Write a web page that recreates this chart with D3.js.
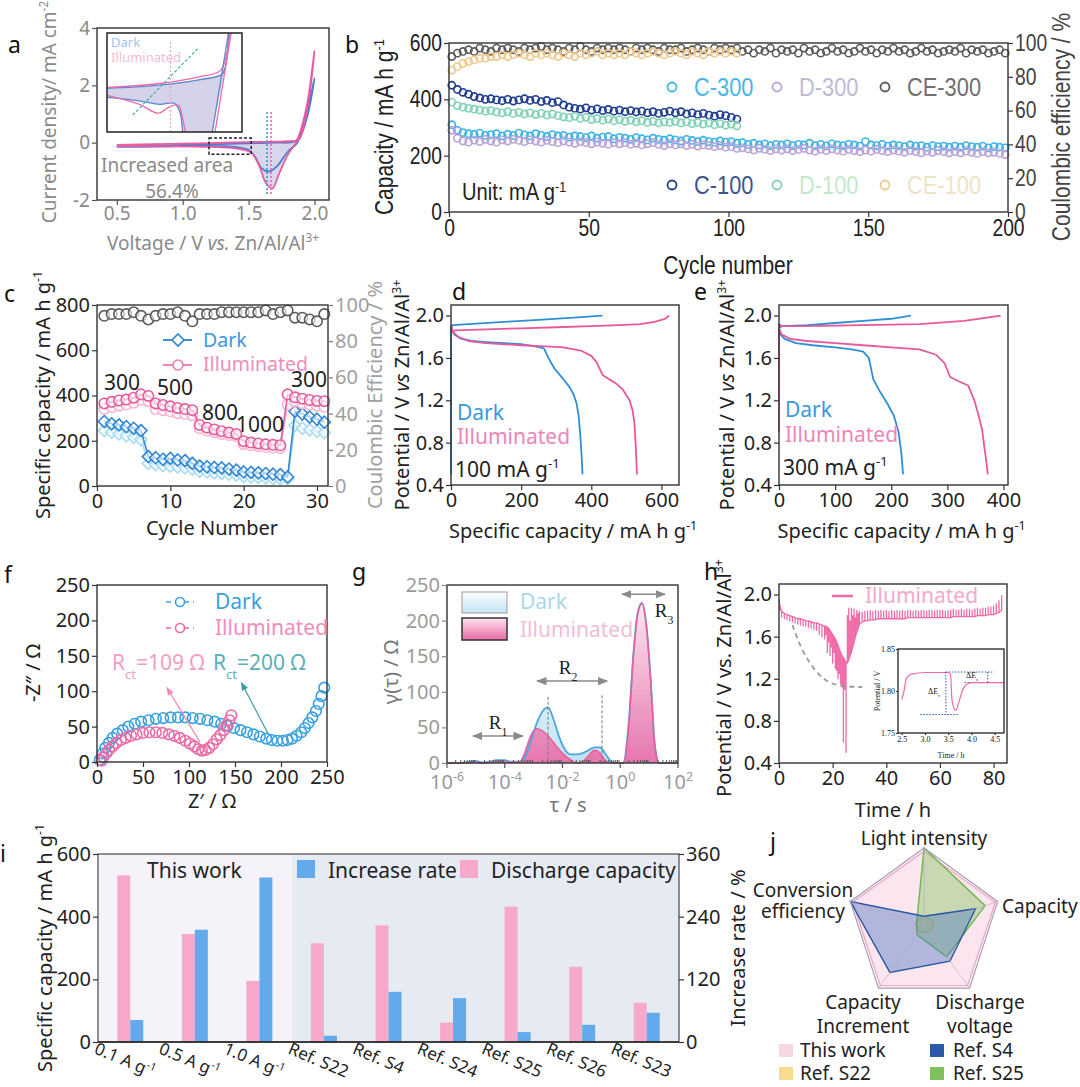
<!DOCTYPE html>
<html><head><meta charset="utf-8">
<script src="https://cdn.jsdelivr.net/npm/d3@7"></script>
<style>body{margin:0;background:#fff}</style>
</head><body><script>
// ---------------- DATA ----------------
// (a) CV curves (voltage, current)
const aDarkV=[0.5,0.8,1.2,1.5,1.7,1.85,1.9,1.95,2.0,1.95,1.9,1.87,1.8,1.72,1.66,1.6,1.55,1.5,1.4,1.2,0.8,0.5];
const aDarkI=[-0.12,-0.1,-0.06,-0.02,0.0,0.04,0.3,1.0,2.25,1.2,0.4,0.0,-0.3,-0.8,-1.0,-0.9,-0.5,-0.25,-0.15,-0.1,-0.14,-0.15];
const aIllV=[0.5,0.8,1.2,1.5,1.8,1.88,1.92,1.96,2.0,1.95,1.9,1.86,1.8,1.73,1.68,1.63,1.58,1.52,1.4,1.2,0.8,0.5];
const aIllI=[-0.08,-0.05,-0.02,0.02,0.05,0.1,0.6,1.6,3.2,1.5,0.5,0.0,-0.4,-1.1,-1.6,-1.4,-0.8,-0.35,-0.2,-0.15,-0.12,-0.12];
// (a) inset, normalised units 0-100
const aiDarkUpX=[0,36,69,85,88,90], aiDarkUpY=[44,47,53,58,68,100];
const aiIllUpX=[0,39,69,84,89,91], aiIllUpY=[45,49,56,62,81,100];
const aiDarkLoX=[0,21,39,50,54,56], aiDarkLoY=[35,32,28,29,20,0];
const aiIllLoX=[0,24,38,47,53,56,58], aiIllLoY=[37,28,19,26,27,14,0];
const aiDarkSteepX=[78,90], aiDarkSteepY=[0,100];
const aiIllSteepX=[80,92], aiIllSteepY=[0,100];

// (b) cycling, every 2nd cycle
const bC300=[310,290,282,278,276,280,272,275,278,270,276,272,280,274,270,278,272,268,275,270,272,266,270,268,264,270,262,266,268,260,265,262,258,264,260,256,262,258,255,260,256,252,258,254,250,255,250,248,252,248,250,244,246,240,244,238,242,236,240,238,242,236,240,238,244,236,240,235,242,238,236,240,238,234,250,238,236,240,234,238,236,232,238,234,236,230,236,232,234,230,234,230,236,232,230,234,228,232,230,228];
const bD300=[290,262,252,248,255,250,258,252,248,256,252,258,254,250,256,252,248,254,250,246,252,248,244,250,246,242,248,244,240,246,242,246,240,244,238,242,246,240,236,242,238,242,236,240,234,238,236,232,236,230,232,226,228,224,220,226,222,218,224,220,224,218,222,226,220,216,222,218,224,220,216,222,218,214,220,216,222,218,214,220,216,212,218,214,210,216,212,218,214,210,214,210,216,212,208,214,210,212,208,204];
const bCE300=[92,94,95,96,95,97,96,95,97,96,97,96,95,97,96,97,98,96,97,96,95,97,96,98,96,95,97,96,97,96,97,96,95,97,96,97,96,95,97,96,96,97,95,96,97,96,95,97,96,97,96,97,95,96,94,96,95,97,94,96,95,96,94,97,95,96,94,95,97,95,96,94,95,97,95,96,94,96,95,97,95,96,94,95,97,95,96,94,95,96,95,97,94,96,95,96,94,95,96,94];
const bC100=[450,435,425,418,410,405,400,402,398,395,400,394,398,402,396,400,392,396,388,392,380,372,368,365,370,362,366,360,364,358,362,356,360,355,358,352,356,350,354,358,352,356,348,352,346,350,344,340,346,342,336,330];
const bD100=[390,378,372,368,365,362,358,360,355,352,356,350,354,348,352,346,350,344,348,342,338,335,340,332,336,328,332,326,330,324,328,322,326,320,324,318,322,316,320,318,322,316,320,314,318,312,316,310,314,308,312,306];
const bCE100=[84,86,88,89,90,91,91,92,92,93,92,93,94,93,92,94,93,94,93,92,94,93,92,94,93,94,95,93,94,93,94,93,95,94,93,94,95,94,93,94,95,94,93,95,94,93,95,94,95,94,95,94];
// [label, marker colour, text colour]
const bLegend=[["C-300","#3fb3e6","#4ab6e2"],["D-300","#b9a3d9","#c2bad2"],["CE-300","#5a5a5a","#707070"],["C-100","#1f3c8f","#3c5590"],["D-100","#82d3b4","#c4e8cc"],["CE-100","#f0c88c","#efe3c6"]];

// (c) rate performance (cycles 1..31)
const cDarkC=[285,275,270,262,255,245,130,125,118,122,115,112,100,88,85,82,80,75,70,62,60,58,55,52,50,40,330,318,305,295,282];
const cDarkD=[245,238,230,222,215,205,100,95,90,88,85,80,75,65,62,58,55,52,48,42,40,38,36,34,33,32,268,255,248,242,236];
const cIllC=[365,372,378,382,390,405,398,365,358,352,345,340,335,270,258,250,242,236,230,198,192,188,184,182,180,405,392,386,380,376,375];
const cIllD=[340,348,355,360,368,380,375,340,335,330,322,318,312,255,245,238,230,225,220,185,180,176,172,170,168,360,372,365,360,355,350];
const cCE=[94,95,95,95,96,94,92,94,95,95,96,94,91,95,95,95,96,96,96,96,96,96,97,95,96,97,93,93,92,91,95];
const cRates=[["300",122,390],["500",175,395],["800",220,420],["1000",260,432],["300",309,387]];

// (d) 100 mA/g
const dDarkChgX=[0,0,4,50,150,250,350,432], dDarkChgY=[0.5,1.88,1.91,1.92,1.94,1.96,1.98,2.0];
const dDarkDisX=[0,3,10,30,60,100,150,200,240,265,281,295,310,325,339,350,358,364,368,372,375];
const dDarkDisY=[1.90,1.86,1.82,1.78,1.76,1.75,1.74,1.73,1.71,1.69,1.58,1.50,1.44,1.38,1.32,1.25,1.17,1.05,0.90,0.70,0.50];
const dIllChgX=[0,10,100,200,300,400,480,540,580,610,622], dIllChgY=[1.84,1.86,1.87,1.88,1.89,1.90,1.91,1.92,1.94,1.97,2.0];
const dIllDisX=[0,5,20,50,100,200,270,320,370,400,415,432,450,470,490,509,518,523,527,530];
const dIllDisY=[1.9,1.85,1.80,1.76,1.74,1.72,1.71,1.70,1.67,1.62,1.56,1.44,1.40,1.36,1.30,1.20,1.10,0.98,0.75,0.50];
// (e) 300 mA/g
const eDarkChgX=[0,0,5,50,100,150,200,235], eDarkChgY=[1.5,1.88,1.90,1.91,1.93,1.95,1.97,2.0];
const eDarkDisX=[0,3,10,30,60,100,130,150,160,168,180,193,205,213,218,221];
const eDarkDisY=[1.86,1.82,1.78,1.74,1.72,1.70,1.68,1.66,1.60,1.40,1.28,1.17,1.05,0.90,0.70,0.50];
const eIllChgX=[0,0,5,50,150,250,330,370,395], eIllChgY=[0.9,1.92,1.90,1.90,1.91,1.92,1.95,1.98,2.0];
const eIllDisX=[0,5,20,50,100,150,200,250,280,295,305,320,337,348,356,362,366,370,372];
const eIllDisY=[1.88,1.82,1.78,1.76,1.74,1.72,1.70,1.68,1.63,1.55,1.42,1.38,1.34,1.20,1.05,0.92,0.75,0.60,0.50];

// (f) Nyquist
const fDarkRe=[3,6,9,13,17,22,28,34,41,48,56,64,72,80,88,96,104,112,120,128,135,142,149,156,163,170,177,184,190,196,202,207,212,217,222,226,230,234,238,241,244,247];
const fDarkIm=[3,12,20,27,34,40,45,50,54,57,59,61,62,63,63,63,62,61,59,57,54,51,48,45,42,39,36,33,31,30,30,31,33,37,42,48,55,63,72,82,93,105];
const fIllRe=[5,7,10,13,17,21,26,31,37,43,50,57,64,71,78,84,90,96,101,106,110,114,118,122,126,130,134,138,141,144,146];
const fIllIm=[2,7,12,17,22,27,31,34,37,39,41,42,42,41,39,37,34,30,26,22,18,16,17,20,25,32,38,45,52,59,66];

// (g) DRT, log10(tau)
const gLogTau=[-6,-5.5,-5.2,-5,-4.8,-4.5,-4.3,-4,-3.8,-3.5,-3.3,-3.1,-2.9,-2.7,-2.5,-2.3,-2.1,-1.9,-1.7,-1.5,-1.3,-1.1,-0.9,-0.7,-0.5,-0.3,-0.1,0.1,0.3,0.45,0.6,0.75,0.9,1.05,1.2,1.35,1.5,2];
const gDark=[0,0,2,3,1,2,4,4,2,2,8,30,55,72,78,60,35,18,12,12,14,18,22,22,12,2,0,0,60,150,210,225,195,120,25,0,0,0];
const gIll=[0,0,0,1,0,1,2,2,1,1,15,38,48,45,38,28,18,10,4,0,2,10,18,14,3,0,0,0,55,148,208,224,195,118,22,0,0,0];

// (h) GITT-like pulses
const hDisT=[0.3,1,2,3,4,5,6,7,8,9,10,11,12,13,14,15,16,17,17.5,18,18.5,19,19.5,20,20.5,21,21.5,22,22.5,23,23.5,24,24.5,25];
const hDisTop=[1.90,1.84,1.82,1.81,1.80,1.79,1.78,1.77,1.77,1.76,1.75,1.75,1.74,1.73,1.73,1.72,1.71,1.70,1.70,1.69,1.68,1.66,1.64,1.62,1.60,1.58,1.55,1.52,1.48,1.45,1.42,1.40,1.38,1.36];
const hDisBot=[1.85,1.79,1.77,1.76,1.75,1.74,1.73,1.72,1.71,1.70,1.70,1.69,1.68,1.67,1.66,1.62,1.60,1.58,1.62,1.45,1.55,1.42,1.50,1.35,1.45,1.30,1.28,1.20,1.25,1.15,1.12,0.60,1.10,0.50];
const hChgT=[25.5,26,26.5,27,27.5,28,28.5,29,29.5,30,31,32,33,34,35,36,37,38,39,40,41,42,43,44,45,46,47,48,49,50,51,52,53,54,55,56,57,58,59,60,61,62,63,64,65,66,67,68,69,70,71,72,73,74,75,76,77,78,79,80,81,82,83];
const hChgBase=[1.35,1.38,1.42,1.45,1.50,1.55,1.60,1.64,1.68,1.72,1.74,1.75,1.75,1.76,1.76,1.76,1.77,1.77,1.77,1.77,1.77,1.77,1.77,1.77,1.77,1.77,1.77,1.78,1.78,1.78,1.78,1.78,1.78,1.78,1.78,1.78,1.78,1.78,1.78,1.78,1.78,1.78,1.78,1.78,1.79,1.79,1.79,1.79,1.79,1.79,1.79,1.79,1.79,1.80,1.80,1.80,1.80,1.81,1.81,1.81,1.82,1.83,1.85];
const hChgPeak=[1.80,1.87,1.75,1.87,1.80,1.86,1.78,1.85,1.82,1.84,1.83,1.84,1.84,1.85,1.84,1.85,1.84,1.85,1.84,1.85,1.84,1.85,1.84,1.85,1.84,1.85,1.84,1.85,1.85,1.84,1.85,1.84,1.85,1.85,1.84,1.85,1.85,1.84,1.85,1.85,1.85,1.84,1.85,1.85,1.86,1.85,1.85,1.86,1.85,1.86,1.86,1.85,1.86,1.87,1.86,1.87,1.87,1.88,1.88,1.89,1.91,1.94,1.99];
const hGuideT=[5,8,12,17,22,31], hGuideV=[1.71,1.5,1.32,1.18,1.13,1.12];
const hInT=[2.5,2.55,2.6,2.7,3.0,3.5,3.55,3.58,3.62,3.66,3.72,3.8,3.9,4.0,4.7];
const hInV=[1.79,1.80,1.815,1.82,1.822,1.822,1.82,1.79,1.78,1.777,1.785,1.80,1.808,1.81,1.81];

// (i) comparison bars
const iCats=["0.1 A g|-1","0.5 A g|-1","1.0 A g|-1","Ref. S22","Ref. S4","Ref. S24","Ref. S25","Ref. S26","Ref. S23"];
const iCapacity=[532,345,195,315,372,62,432,240,125];
const iIncrease=[42,215,315,12,96,84,19,33,56];

// (j) radar
const jAxes=["Light intensity","Capacity","Discharge voltage","Capacity Increment","Conversion efficiency"];
const jSeries=[
 {name:"This work",vals:[0.96,0.97,0.96,0.96,0.97],fill:"#f9dbe8",stroke:"#eea8c8",fo:0.7},
 {name:"Ref. S22",vals:[0.12,0.15,0.12,0.10,0.12],fill:"#f6d77c",stroke:"#e8c25a",fo:0.5},
 {name:"Ref. S25",vals:[1.0,0.83,0.5,0.15,0.1],fill:"#8cc86a",stroke:"#6cb84a",fo:0.45},
 {name:"Ref. S4",vals:[0.12,0.7,0.57,0.75,1.0],fill:"#4a78c0",stroke:"#2a58a0",fo:0.42}
];

// ---------------- HELPERS ----------------
const FONT="'Noto Sans','Open Sans',sans-serif";
const NARROW="'Liberation Sans','Arial',sans-serif";
const SERIF="'Liberation Serif','DejaVu Serif',serif";
const svg=d3.select('body').append('svg').attr('width',1080).attr('height',1087).style('background','#fff');
const defs=svg.append('defs');
function txt(x,y,parts,o={}){
  const size=o.size||18;
  let tr=`translate(${x},${y})`;
  if(o.rotate!=null) tr+=` rotate(${o.rotate})`;
  if(o.sx) tr+=` scale(${o.sx},1)`;
  const t=svg.append('text').attr('transform',tr).attr('font-size',size)
    .attr('fill',o.fill||'#222').attr('text-anchor',o.anchor||'start').attr('font-family',o.family||FONT);
  (Array.isArray(parts)?parts:[parts]).forEach(p=>{
    if(typeof p==='string'){t.append('tspan').text(p);return;}
    const s=t.append('tspan').text(p[0]);
    if(p[1].includes('sup')) s.attr('baseline-shift','super').attr('font-size',size*0.62);
    if(p[1].includes('sub')) s.attr('baseline-shift','sub').attr('font-size',size*0.62);
    if(p[1].includes('it')) s.attr('font-style','italic');
  });
  return t;
}
function axis(scale,orient,pos,ticks,o={}){
  const gen={left:d3.axisLeft,right:d3.axisRight,bottom:d3.axisBottom,top:d3.axisTop}[orient](scale)
    .tickValues(ticks).tickSizeInner(o.ts??5).tickSizeOuter(0).tickPadding(o.tp??2)
    .tickFormat(o.fmt||(d=>String(d)));
  const tr=(orient==='left'||orient==='right')?`translate(${pos},0)`:`translate(0,${pos})`;
  const g=svg.append('g').attr('transform',tr).call(gen);
  g.select('.domain').remove();
  g.selectAll('.tick line').attr('stroke',o.lc||'#333').attr('stroke-width',1.2);
  const tt=g.selectAll('.tick text').attr('font-size',o.size||18).attr('fill',o.fill||'#222').attr('font-family',o.family||FONT);
  if(o.sx) tt.each(function(){const e=d3.select(this);const x=+e.attr('x')||0;e.attr('x',x/o.sx).attr('transform',`scale(${o.sx},1)`);});
  return g;
}
function box(xs,ys,c='#333',w=1.3,fill='none'){
  const [x0,x1]=xs.range(),[y0,y1]=ys.range();
  return svg.append('rect').attr('x',Math.min(x0,x1)).attr('y',Math.min(y0,y1))
   .attr('width',Math.abs(x1-x0)).attr('height',Math.abs(y1-y0)).attr('fill',fill).attr('stroke',c).attr('stroke-width',w);
}
function zip(a,b){return a.map((v,i)=>[v,b[i]]);}
function path(xs,ys,pts,color,w=1.6,curve=d3.curveLinear,dash=null){
  const p=svg.append('path').attr('d',d3.line().x(d=>xs(d[0])).y(d=>ys(d[1])).curve(curve)(pts))
   .attr('fill','none').attr('stroke',color).attr('stroke-width',w).attr('stroke-linejoin','round');
  if(dash) p.attr('stroke-dasharray',dash);
  return p;
}
function marker(id,color,both){
  const m=defs.append('marker').attr('id',id).attr('viewBox','0 0 10 10').attr('refX',9).attr('refY',5)
   .attr('markerWidth',7).attr('markerHeight',7).attr('orient',both?'auto-start-reverse':'auto');
  m.append('path').attr('d','M0,1L10,5L0,9Z').attr('fill',color);
}
marker('arrGray','#8a8a8a',true);
marker('arrPink','#f08ab8',false);
marker('arrBlue','#3a9aa8',false);
const letter=(x,y,s)=>txt(x,y,s,{size:23,fill:'#111'});
const ID=d3.scaleIdentity();

// ---------------- (a) ----------------
{
 const X=d3.scaleLinear().domain([0.35,2.11]).range([97,329]);
 const Y=d3.scaleLinear().domain([-2,4]).range([200,28]);
 letter(8,53,'a');
 const illRev=zip(aIllV,aIllI).slice(9).filter(d=>d[0]>=1.2&&d[0]<=1.87);
 svg.append('path').attr('d',d3.area().x(d=>X(d[0])).y0(Y(0.02)).y1(d=>Y(d[1]))(illRev)).attr('fill','#c9c8e4').attr('opacity',0.75);
 path(X,Y,zip(aDarkV,aDarkI),'#4a7fd0',1.8,d3.curveCatmullRom);
 path(X,Y,zip(aIllV,aIllI),'#ea5a9f',1.8,d3.curveCatmullRom);
 path(X,Y,[[1.64,1.07],[1.64,-1.86]],'#3aa0c8',1.6,d3.curveLinear,'2,2');
 path(X,Y,[[1.67,1.07],[1.67,-1.86]],'#ea6aa8',1.6,d3.curveLinear,'2,2');
 svg.append('rect').attr('x',X(1.2)).attr('y',Y(0.16)).attr('width',X(1.52)-X(1.2)).attr('height',Y(-0.4)-Y(0.16))
   .attr('fill','none').attr('stroke','#222').attr('stroke-width',1.5).attr('stroke-dasharray','3,2');
 box(X,Y,'#333',1.4);
 axis(X,'bottom',200,[0.5,1.0,1.5,2.0],{fmt:d3.format('.1f'),fill:'#8a8a8a',size:19,lc:'#555'});
 axis(Y,'left',97,[-2,0,2,4],{fill:'#8a8a8a',size:19,lc:'#555'});
 txt(167,172,'Increased area',{anchor:'middle',fill:'#8a8a8a',size:19});
 txt(172,198,'56.4%',{anchor:'middle',fill:'#8a8a8a',size:19});
 txt(213,250,['Voltage / V ',['vs.','it'],' Zn/Al/Al',['3+','sup']],{anchor:'middle',fill:'#8a8a8a',size:19});
 txt(56,112,['Current density/ mA cm',['-2','sup']],{anchor:'middle',fill:'#8a8a8a',size:19,rotate:-90});
 // inset
 const IX=d3.scaleLinear().domain([0,100]).range([107,242]);
 const IY=d3.scaleLinear().domain([0,100]).range([132,33]);
 box(IX,IY,'none',0,'#fff');
 const shade=[...zip(aiDarkUpX,aiDarkUpY).slice(0,5),[78,0],[56,0],...zip(aiDarkLoX,aiDarkLoY).reverse()];
 svg.append('path').attr('d',d3.line().x(d=>IX(d[0])).y(d=>IY(d[1])).curve(d3.curveLinearClosed)(shade)).attr('fill','#c9c8e4').attr('opacity',0.8);
 path(IX,IY,zip(aiDarkUpX,aiDarkUpY),'#5a86d0',1.3,d3.curveCatmullRom);
 path(IX,IY,zip(aiIllUpX,aiIllUpY),'#ea6aa8',1.3,d3.curveCatmullRom);
 path(IX,IY,zip(aiDarkLoX,aiDarkLoY),'#5a86d0',1.3,d3.curveCatmullRom);
 path(IX,IY,zip(aiIllLoX,aiIllLoY),'#ea6aa8',1.3,d3.curveCatmullRom);
 path(IX,IY,zip(aiDarkSteepX,aiDarkSteepY),'#5a86d0',1.3);
 path(IX,IY,zip(aiIllSteepX,aiIllSteepY),'#ea6aa8',1.3);
 path(IX,IY,[[47,0],[47,93]],'#f0a0c4',1.2,d3.curveLinear,'2,2');
 path(IX,IY,[[19,17],[67,84]],'#40b0a8',1.2,d3.curveLinear,'3,2');
 box(IX,IY,'#222',1.5);
 txt(111,47,'Dark',{fill:'#9fc6ee',size:13});
 txt(111,62,'Illuminated',{fill:'#f3bad6',size:13});
}

// ---------------- (b) ----------------
{
 const X=d3.scaleLinear().domain([0,200]).range([449,1008]);
 const Y=d3.scaleLinear().domain([0,600]).range([212,43]);
 const YR=d3.scaleLinear().domain([0,100]).range([212,43]);
 letter(345,53,'b');
 const dots=(vals,ys,color)=>svg.append('g').selectAll('circle').data(vals).join('circle')
   .attr('cx',(d,i)=>X(1+2*i)).attr('cy',d=>ys(d)).attr('r',3.6).attr('fill','none').attr('stroke',color).attr('stroke-width',1.6);
 dots(bCE300,YR,bLegend[2][1]);
 dots(bCE100,YR,bLegend[5][1]);
 dots(bC300,Y,bLegend[0][1]);
 dots(bD300,Y,bLegend[1][1]);
 dots(bC100,Y,bLegend[3][1]);
 dots(bD100,Y,bLegend[4][1]);
 box(X,Y,'#333',1.4);
 const NS=0.84;
 axis(X,'bottom',212,[0,50,100,150,200],{family:NARROW,size:23,tp:3,sx:NS});
 axis(Y,'left',449,[0,200,400,600],{family:NARROW,size:23,sx:NS});
 axis(YR,'right',1008,[0,20,40,60,80,100],{family:NARROW,size:23,fill:'#444',sx:NS});
 const lx=[672,777,885], ly=[87,185];
 bLegend.forEach((d,i)=>{
   const x=lx[i%3], y=ly[Math.floor(i/3)];
   svg.append('circle').attr('cx',x).attr('cy',y).attr('r',4.5).attr('fill','none').attr('stroke',d[1]).attr('stroke-width',1.8);
   txt(x+22,y+9,d[0],{family:NARROW,size:26,fill:d[2],sx:NS});
 });
 txt(462,200,['Unit:  mA g',['-1','sup']],{family:NARROW,size:24,sx:NS});
 txt(728,274,'Cycle number',{family:NARROW,size:25,anchor:'middle',sx:NS});
 txt(393,127,['Capacity / mA h g',['-1','sup']],{family:NARROW,size:25,anchor:'middle',rotate:-90,sx:NS});
 txt(1070,127,'Coulombic efficiency / %',{family:NARROW,size:25,anchor:'middle',rotate:-90,fill:'#444',sx:NS});
}

// ---------------- (c) ----------------
{
 const X=d3.scaleLinear().domain([0,31.5]).range([97,328]);
 const Y=d3.scaleLinear().domain([0,800]).range([486,305]);
 const YR=d3.scaleLinear().domain([0,100]).range([486,305]);
 letter(4,302,'c');
 const cyc=cDarkC.map((d,i)=>i+1);
 const diamond='M0,-6L6,0L0,6L-6,0Z';
 const series=(vals,ys,color,shape,line)=>{
   const pts=vals.map((v,i)=>[cyc[i],v]);
   if(line) path(X,ys,pts,color,1.6);
   const g=svg.append('g');
   pts.forEach(p=>{
     if(shape==='d') g.append('path').attr('d',diamond).attr('transform',`translate(${X(p[0])},${ys(p[1])})`).attr('fill','#fff').attr('fill-opacity',0.6).attr('stroke',color).attr('stroke-width',1.6);
     else g.append('circle').attr('cx',X(p[0])).attr('cy',ys(p[1])).attr('r',5.2).attr('fill','#fff').attr('fill-opacity',0.6).attr('stroke',color).attr('stroke-width',1.6);
   });
 };
 series(cCE,YR,'#5a5a5a','o',false);
 series(cDarkD,Y,'#a6dcf3','d',true);
 series(cDarkC,Y,'#2e86d4','d',true);
 series(cIllD,Y,'#f6b4d0','o',true);
 series(cIllC,Y,'#e55b9c','o',true);
 box(X,Y,'#333',1.4);
 axis(X,'bottom',486,[0,10,20,30],{size:20,tp:3});
 axis(Y,'left',97,[0,200,400,600,800],{size:20});
 axis(YR,'right',328,[0,20,40,60,80,100],{size:20,fill:'#a0a0a0',lc:'#777'});
 cRates.forEach(r=>txt(r[1],r[2],r[0],{anchor:'middle',size:21}));
 path(ID,ID,[[163,340],[192,340]],'#2e86d4',1.8);
 svg.append('path').attr('d',diamond).attr('transform','translate(178,340)').attr('fill','#fff').attr('stroke','#2e86d4').attr('stroke-width',1.6);
 txt(203,347,'Dark',{size:19.5,fill:'#3a98dc'});
 path(ID,ID,[[163,365],[192,365]],'#ee7ab0',1.8);
 svg.append('circle').attr('cx',178).attr('cy',365).attr('r',5).attr('fill','#fff').attr('stroke','#ee7ab0').attr('stroke-width',1.6);
 txt(203,371,'Illuminated',{size:19.5,fill:'#f08cbc'});
 txt(212,535,'Cycle Number',{anchor:'middle',size:20});
 txt(50,395,['Specific capacity / mA h g',['-1','sup']],{anchor:'middle',size:20,rotate:-90});
 txt(382,395,'Coulombic Efficiency / %',{anchor:'middle',size:20,rotate:-90,fill:'#a0a0a0'});
}

// ---------------- (d),(e) ----------------
function gcd(x0,x1,dmax,xt,id,lx,curves,rateTxt,letterX){
 const X=d3.scaleLinear().domain([0,dmax]).range([x0,x1]);
 const Y=d3.scaleLinear().domain([0.4,2.1]).range([485,305]);
 letter(letterX,300,id);
 curves.forEach(c=>path(X,Y,zip(c[0],c[1]),c[2],1.8));
 box(X,Y,'#333',1.4);
 axis(X,'bottom',485,xt,{size:20,tp:3});
 axis(Y,'left',x0,[0.4,0.8,1.2,1.6,2.0],{size:20,fmt:d3.format('.1f')});
 txt(x0+6,rateTxt[0],'Dark',{size:21,fill:'#3a98dc'});
 txt(x0+6,rateTxt[1],'Illuminated',{size:21,fill:'#ec86b8'});
 txt(x0+4,rateTxt[2],rateTxt[3],{size:21});
 txt((x0+x1)/2+8,538,['Specific capacity / mA h g',['-1','sup']],{anchor:'middle',size:20});
 txt(lx,395,['Potential / V ',['vs','it'],' Zn/Al/Al',['3+','sup']],{anchor:'middle',size:20,rotate:-90});
}
gcd(451,679,650,[0,200,400,600],'d',409,[
 [dDarkChgX,dDarkChgY,'#2f8fd6'],[dDarkDisX,dDarkDisY,'#2f8fd6'],[dIllChgX,dIllChgY,'#e8589c'],[dIllDisX,dIllDisY,'#e8589c']],
 [420,444,477,['100 mA g',['-1','sup']]],452);
gcd(779,1008,408,[0,100,200,300,400],'e',734,[
 [eDarkChgX,eDarkChgY,'#2f8fd6'],[eIllChgX,eIllChgY,'#e8589c'],[eDarkDisX,eDarkDisY,'#2f8fd6'],[eIllDisX,eIllDisY,'#e8589c']],
 [417,442,475,['300 mA g',['-1','sup']]],694);

// ---------------- (f) ----------------
{
 const X=d3.scaleLinear().domain([0,250]).range([97,327]);
 const Y=d3.scaleLinear().domain([0,250]).range([762,585]);
 letter(4,583,'f');
 const ring=(re,im,color)=>svg.append('g').selectAll('circle').data(zip(re,im)).join('circle')
   .attr('cx',d=>X(d[0])).attr('cy',d=>Y(d[1])).attr('r',5.3).attr('fill','none').attr('stroke',color).attr('stroke-width',1.6);
 ring(fDarkRe,fDarkIm,'#3aa0e2');
 ring(fIllRe,fIllIm,'#ec6aa6');
 path(X,Y,[[112,28],[76,105]],'#f08ab8',1.2).attr('marker-end','url(#arrPink)');
 path(X,Y,[[186,40],[157,112]],'#3a9aa8',1.2).attr('marker-end','url(#arrBlue)');
 box(X,Y,'#333',1.4);
 axis(X,'bottom',762,[0,50,100,150,200,250],{size:20,tp:3});
 axis(Y,'left',97,[0,50,100,150,200,250],{size:20});
 [['Dark',602,'#3aa0e2','#3aa0d6'],['Illuminated',628,'#ec6aa6','#f08cbc']].forEach(l=>{
   path(ID,ID,[[166,l[1]],[194,l[1]]],l[2],1.6,d3.curveLinear,'5,4');
   svg.append('circle').attr('cx',180).attr('cy',l[1]).attr('r',4.5).attr('fill','#fff').attr('stroke',l[2]).attr('stroke-width',1.6);
   txt(215,l[1]+7,l[0],{size:21,fill:l[3]});
 });
 txt(112,670,['R',['ct','sub'],'=109 Ω'],{size:21,fill:'#f29cc4'});
 txt(213,670,['R',['ct','sub'],'=200 Ω'],{size:21,fill:'#5ab0b8'});
 txt(212,808,'Z′ / Ω',{anchor:'middle',size:20});
 txt(40,673,'-Z″ / Ω',{anchor:'middle',size:20,rotate:-90});
}

// ---------------- (g) ----------------
{
 const X=d3.scaleLog().domain([1e-6,1e2]).range([447,678]);
 const Y=d3.scaleLinear().domain([0,250]).range([763,585]);
 letter(352,580,'g');
 const gb=defs.append('linearGradient').attr('id','gBlue').attr('x1',0).attr('y1',0).attr('x2',0).attr('y2',1);
 gb.append('stop').attr('offset','0').attr('stop-color','#ffffff');gb.append('stop').attr('offset','1').attr('stop-color','#bfe3f4');
 const gp=defs.append('linearGradient').attr('id','gPink').attr('x1',0).attr('y1',0).attr('x2',0).attr('y2',1);
 gp.append('stop').attr('offset','0').attr('stop-color','#fbe3ee');gp.append('stop').attr('offset','1').attr('stop-color','#ea6aa6');
 const pd=gLogTau.map((t,i)=>[Math.pow(10,t),gDark[i]]), pi=gLogTau.map((t,i)=>[Math.pow(10,t),gIll[i]]);
 const ar=d3.area().x(d=>X(d[0])).y0(Y(0)).y1(d=>Y(d[1])).curve(d3.curveMonotoneX);
 svg.append('path').attr('d',ar(pd)).attr('fill','url(#gBlue)');
 svg.append('path').attr('d',ar(pi)).attr('fill','url(#gPink)').attr('opacity',0.9);
 path(X,Y,pd,'#49a9de',1.8,d3.curveMonotoneX);
 path(X,Y,pi,'#e8609e',1.6,d3.curveMonotoneX);
 path(X,Y,[[Math.pow(10,-2.5),93],[Math.pow(10,-2.5),0]],'#777',1,d3.curveLinear,'3,2');
 path(X,Y,[[Math.pow(10,-0.63),95],[Math.pow(10,-0.63),0]],'#777',1,d3.curveLinear,'3,2');
 path(X,Y,[[Math.pow(10,-5.1),38],[Math.pow(10,-3.37),38]],'#8a8a8a',1.5).attr('marker-start','url(#arrGray)').attr('marker-end','url(#arrGray)');
 path(X,Y,[[Math.pow(10,-2.88),115],[Math.pow(10,-0.46),115]],'#8a8a8a',1.5).attr('marker-start','url(#arrGray)').attr('marker-end','url(#arrGray)');
 path(X,Y,[[Math.pow(10,0.06),237],[Math.pow(10,1.55),237]],'#8a8a8a',1.5).attr('marker-start','url(#arrGray)').attr('marker-end','url(#arrGray)');
 txt(498,729,['R',['1','sub']],{anchor:'middle',size:19,family:SERIF});
 txt(568,674,['R',['2','sub']],{anchor:'middle',size:19,family:SERIF});
 txt(664,617,['R',['3','sub']],{anchor:'middle',size:19,family:SERIF});
 box(X,Y,'#333',1.4);
 axis(Y,'left',447,[0,50,100,150,200,250],{size:20,fill:'#9a9a9a',lc:'#888'});
 const minor=[];for(let e=-6;e<2;e++)for(let k=2;k<10;k++)minor.push(k*Math.pow(10,e));
 svg.append('g').selectAll('line').data(minor).join('line').attr('x1',d=>X(d)).attr('x2',d=>X(d)).attr('y1',763).attr('y2',760).attr('stroke','#555');
 [-6,-4,-2,0,2].forEach(e=>{
   svg.append('line').attr('x1',X(Math.pow(10,e))).attr('x2',X(Math.pow(10,e))).attr('y1',763).attr('y2',768).attr('stroke','#555').attr('stroke-width',1.2);
   txt(X(Math.pow(10,e)),789,['10',[String(e),'sup']],{anchor:'middle',size:20,fill:'#9a9a9a'});
 });
 svg.append('rect').attr('x',462).attr('y',592).attr('width',45).attr('height',21).attr('fill','url(#gBlue)').attr('stroke','#aaa').attr('stroke-width',1.2);
 svg.append('rect').attr('x',462).attr('y',618).attr('width',45).attr('height',22).attr('fill','url(#gPink)').attr('stroke','#333').attr('stroke-width',1.5);
 txt(520,609,'Dark',{size:21,fill:'#a8d8ef'});
 txt(520,637,'Illuminated',{size:21,fill:'#f4bcd6'});
 txt(568,812,'τ / s',{anchor:'middle',size:20,fill:'#777'});
 txt(398,672,'γ(τ) / Ω',{anchor:'middle',size:20,fill:'#777',rotate:-90});
}

// ---------------- (h) ----------------
{
 const X=d3.scaleLinear().domain([0,85]).range([779,1007]);
 const Y=d3.scaleLinear().domain([0.4,2.1]).range([763,584]);
 letter(704,580,'h');
 const pts=[[0,1.96]];
 hDisT.forEach((t,i)=>{pts.push([t,hDisTop[i]],[t,hDisBot[i]],[t,hDisTop[i]]);});
 hChgT.forEach((t,i)=>{pts.push([t,hChgBase[i]],[t,hChgPeak[i]],[t,hChgBase[i]]);});
 path(X,Y,pts,'#f06aa8',1.3);
 path(X,Y,zip(hGuideT,hGuideV),'#9a9a9a',1.8,d3.curveBasis,'5,4');
 box(X,Y,'#333',1.4);
 axis(X,'bottom',763,[0,20,40,60,80],{size:20,tp:3});
 axis(Y,'left',779,[0.4,0.8,1.2,1.6,2.0],{size:20,fmt:d3.format('.1f')});
 path(ID,ID,[[832,596],[853,596]],'#f06aa8',2.5);
 txt(865,603,'Illuminated',{size:21,fill:'#f4a8cc'});
 txt(893,817,'Time / h',{anchor:'middle',size:20});
 txt(731,678,['Potential / V vs. Zn/Al/Al',['3+','sup']],{anchor:'middle',size:20,rotate:-90});
 // inset
 const IX=d3.scaleLinear().domain([2.42,4.7]).range([898,1004]);
 const IY=d3.scaleLinear().domain([1.75,1.85]).range([733,649]);
 box(IX,IY,'none',0,'#fff');
 path(IX,IY,[[3.45,1.8226],[4.48,1.8226]],'#2a5fb0',1,d3.curveLinear,'1.5,1.5');
 path(IX,IY,[[2.9,1.772],[3.72,1.772]],'#2a5fb0',1,d3.curveLinear,'1.5,1.5');
 path(IX,IY,[[3.85,1.81],[4.7,1.81]],'#2a5fb0',1,d3.curveLinear,'1.5,1.5');
 path(IX,IY,zip(hInT,hInV),'#ee6aa8',1.2,d3.curveMonotoneX);
 path(IX,IY,[[3.45,1.8226],[3.45,1.772]],'#2a5fb0',1,d3.curveLinear,'1.5,1.5');
 path(IX,IY,[[4.35,1.8226],[4.35,1.81]],'#2a5fb0',1,d3.curveLinear,'1.5,1.5');
 box(IX,IY,'#222',1.3);
 axis(IX,'bottom',733,[2.5,3.0,3.5,4.0,4.5],{size:8,family:SERIF,ts:2,tp:1,fmt:d3.format('.1f'),fill:'#111'});
 axis(IY,'left',898,[1.75,1.80,1.85],{size:8,family:SERIF,ts:2,tp:1,fmt:d3.format('.2f'),fill:'#111'});
 txt(951,758,'Time / h',{anchor:'middle',size:8,family:SERIF});
 txt(880,691,'Potential / V',{anchor:'middle',size:8,family:SERIF,rotate:-90});
 txt(934,694,['ΔE',['τ','sub']],{anchor:'middle',size:8,family:SERIF});
 txt(972,678,['ΔE',['s','sub']],{anchor:'middle',size:8,family:SERIF});
}

// ---------------- (i) ----------------
{
 const X=d3.scaleBand().domain(iCats).range([98,679]);
 const Y=d3.scaleLinear().domain([0,600]).range([1042,854]);
 const YR=d3.scaleLinear().domain([0,360]).range([1042,854]);
 letter(0,862,'i');
 const split=X(iCats[3]);
 svg.append('rect').attr('x',98).attr('y',854).attr('width',split-98).attr('height',188).attr('fill','#f5f3f9');
 svg.append('rect').attr('x',split).attr('y',854).attr('width',679-split).attr('height',188).attr('fill','#e6eaf3');
 const bw=13;
 svg.append('g').selectAll('rect').data(iCapacity).join('rect')
  .attr('x',(d,i)=>X(iCats[i])+X.bandwidth()/2-bw).attr('width',bw).attr('y',d=>Y(d)).attr('height',d=>Y(0)-Y(d)).attr('fill','#f7a9cc');
 svg.append('g').selectAll('rect').data(iIncrease).join('rect')
  .attr('x',(d,i)=>X(iCats[i])+X.bandwidth()/2).attr('width',bw).attr('y',d=>YR(d)).attr('height',d=>YR(0)-YR(d)).attr('fill','#62aaec');
 box(X,Y,'#555',1.3);
 svg.append('line').attr('x1',98).attr('x2',679).attr('y1',1042).attr('y2',1042).attr('stroke','#222').attr('stroke-width',1.6);
 axis(Y,'left',98,[0,200,400,600],{size:20});
 axis(YR,'right',679,[0,120,240,360],{size:20});
 iCats.forEach(c=>{
   const [a,b]=c.split('|');
   const x=X(c)+X.bandwidth()/2-37, y=1053;
   txt(x,y,b?[a,[b,'sup']]:[a],{size:17,rotate:23});
 });
 txt(147,878,'This work',{size:21});
 svg.append('rect').attr('x',297).attr('y',860).attr('width',18).attr('height',18).attr('fill','#62aaec');
 txt(328,878,'Increase rate',{size:21});
 svg.append('rect').attr('x',460).attr('y',860).attr('width',18).attr('height',18).attr('fill','#f7a9cc');
 txt(491,878,'Discharge capacity',{size:21});
 txt(52,948,['Specific capacity / mA h g',['-1','sup']],{anchor:'middle',size:20,rotate:-90});
 txt(745,948,'Increase rate / %',{anchor:'middle',size:20,rotate:-90});
}

// ---------------- (j) ----------------
{
 const cx=924, cy=925.5;
 const R=d3.scaleLinear().domain([0,1]).range([0,77.4]);
 letter(770,850,'j');
 const radial=d3.lineRadial().angle((d,i)=>i*2*Math.PI/5).radius(d=>R(d)).curve(d3.curveLinearClosed);
 const g=svg.append('g').attr('transform',`translate(${cx},${cy})`);
 jSeries.forEach(s=>{
   g.append('path').attr('d',radial(s.vals)).attr('fill',s.fill).attr('fill-opacity',s.fo).attr('stroke',s.stroke).attr('stroke-width',1.4);
 });
 g.append('path').attr('d',radial([1,1,1,1,1])).attr('fill','none').attr('stroke','#a898b0').attr('stroke-width',1.2);
 jAxes.forEach((a,i)=>{
   const ang=i*2*Math.PI/5;
   g.append('line').attr('x2',R(1)*Math.sin(ang)).attr('y2',-R(1)*Math.cos(ang)).attr('stroke','#b8a8c0').attr('stroke-width',0.6);
 });
 txt(924,845,'Light intensity',{anchor:'middle',size:19});
 txt(1002,913,'Capacity',{size:19});
 txt(803,897,'Conversion',{anchor:'middle',size:19});
 txt(803,918,'efficiency',{anchor:'middle',size:19});
 txt(863,1009,'Capacity',{anchor:'middle',size:19});
 txt(863,1033,'Increment',{anchor:'middle',size:19});
 txt(980,1009,'Discharge',{anchor:'middle',size:19});
 txt(980,1033,'voltage',{anchor:'middle',size:19});
 const leg=[["This work","#f8d6e6",779,1044],["Ref. S22","#f6dc8c",779,1067],["Ref. S4","#2a5aa8",930,1044],["Ref. S25","#80c05a",930,1067]];
 leg.forEach(l=>{
   svg.append('rect').attr('x',l[2]).attr('y',l[3]).attr('width',14).attr('height',13).attr('fill',l[1]);
   txt(l[2]+(l[2]<900?21:23),l[3]+13,l[0],{size:19});
 });
}
</script></body></html>
